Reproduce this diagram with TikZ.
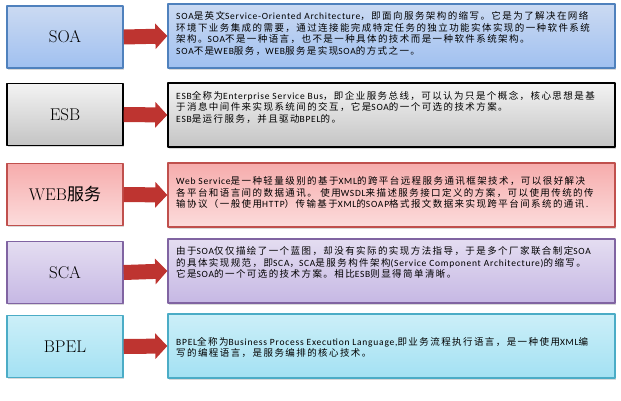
\documentclass[tikz,border=0pt]{standalone}
\usepackage{fontspec}
\newfontfamily\cjk[LetterSpace=15]{Noto Sans CJK SC}
\newfontfamily\cjklabel{Noto Sans CJK SC}
\newfontfamily\enfont[LetterSpace=8]{Carlito}
\newcommand\en[1]{{\enfont #1}}
\usetikzlibrary{positioning,shadows,arrows.meta}

\definecolor{soaline}{RGB}{79,129,189}
\definecolor{soatop}{RGB}{203,218,242}
\definecolor{soabot}{RGB}{160,192,240}
\definecolor{esbtop}{RGB}{243,243,243}
\definecolor{esbbot}{RGB}{196,196,196}
\definecolor{webline}{RGB}{192,80,77}
\definecolor{webtop}{RGB}{246,172,172}
\definecolor{webbot}{RGB}{252,220,220}
\definecolor{scaline}{RGB}{128,100,162}
\definecolor{scatop}{RGB}{228,221,241}
\definecolor{scabot}{RGB}{198,184,228}
\definecolor{bpelline}{RGB}{75,172,198}
\definecolor{bpeltop}{RGB}{204,239,248}
\definecolor{bpelbot}{RGB}{163,225,243}
\definecolor{arrowred}{RGB}{190,52,48}

\begin{document}
\begin{tikzpicture}[x=1pt, y=1pt, line join=round,
    namebox/.style={draw, line width=1.4pt, minimum width=116pt, minimum height=62pt,
      font=\fontsize{17}{20}\selectfont,
      drop shadow={shadow xshift=1pt, shadow yshift=-1.5pt, opacity=0.3}},
    descbox/.style={draw, line width=1.4pt, minimum width=447pt, minimum height=64pt,
      drop shadow={shadow xshift=1pt, shadow yshift=-1.5pt, opacity=0.3}},
    desc/.style={anchor=west, align=left, inner sep=0pt, font=\cjk\fontsize{9.5}{11.6}\selectfont},
    link/.style={draw=arrowred, line width=15pt, -{Triangle[length=12pt, width=25pt]}}]
  \useasboundingbox (0,0) rectangle (621,-400);

  % left column
  \node[namebox, draw=soaline, top color=soatop, bottom color=soabot] (soa) at (65,-37) {SOA};
  \node[namebox, draw=black, top color=esbtop, bottom color=esbbot] (esb) at (65,-114.5) {ESB};
  \node[namebox, draw=webline, top color=webtop, bottom color=webbot] (web) at (65,-194.5) {WEB{\cjklabel 服务}};
  \node[namebox, draw=scaline, top color=scatop, bottom color=scabot] (sca) at (65,-272.5) {SCA};
  \node[namebox, draw=bpelline, top color=bpeltop, bottom color=bpelbot] (bpel) at (65,-346.5) {BPEL};

  % right column
  \node[descbox, draw=soaline, top color=soatop, bottom color=soabot] (soad) at (391.5,-36) {};
  \node[descbox, draw=black, top color=esbtop, bottom color=esbbot] (esbd) at (391.5,-115) {};
  \node[descbox, draw=webline, top color=webtop, bottom color=webbot] (webd) at (391.5,-195) {};
  \node[descbox, draw=scaline, top color=scatop, bottom color=scabot] (scad) at (391.5,-271) {};
  \node[descbox, draw=bpelline, top color=bpeltop, bottom color=bpelbot] (bpeld) at (391.5,-346) {};

  \node[desc] (soat) at (176,-33.4) {\en{SOA}是英文\en{Service-Oriented Architecture}，即面向服务架构的缩写。它是为了解决在网络\\
    环境下业务集成的需要，通过连接能完成特定任务的独立功能实体实现的一种软件系统\\
    架构。\en{SOA}不是一种语言，也不是一种具体的技术而是一种软件系统架构。\\
    \en{SOA}不是\en{WEB}服务，\en{WEB}服务是实现\en{SOA}的方式之一。};
  \node[desc] (esbt) at (176,-107.3) {\en{ESB}全称为\en{Enterprise Service Bus}，即企业服务总线，可以认为只是个概念，核心思想是基\\
    于消息中间件来实现系统间的交互，它是\en{SOA}的一个可选的技术方案。\\
    \en{ESB}是运行服务，并且驱动\en{BPEL}的。};
  \node[desc] (webt) at (176,-192.7) {\en{Web Service}是一种轻量级别的基于\en{XML}的跨平台远程服务通讯框架技术，可以很好解决\\
    各平台和语言间的数据通讯。 使用\en{WSDL}来描述服务接口定义的方案，可以使用传统的传\\
    输协议（一般使用\en{HTTP}）传输基于\en{XML}的\en{SOAP}格式报文数据来实现跨平台间系统的通讯.};
  \node[desc] (scat) at (176,-262.7) {由于\en{SOA}仅仅描绘了一个蓝图，却没有实际的实现方法指导，于是多个厂家联合制定\en{SOA}\\
    的具体实现规范，即\en{SCA}，\en{SCA}是服务构件架构\en{(Service Component Architecture)}的缩写。\\
    它是\en{SOA}的一个可选的技术方案。相比\en{ESB}则显得简单清晰。};
  \node[desc] (bpelt) at (176,-347.4) {\en{BPEL}全称为\en{Business Process Execution Language,}即业务流程执行语言，是一种使用\en{XML}编\\
    写的编程语言，是服务编排的核心技术。};

  % arrows
  \draw[link] (soa.east) -- (soad.west);
  \draw[link] (esb.east) -- (esbd.west);
  \draw[link] (web.east) -- (webd.west);
  \draw[link] (sca.east) -- (scad.west);
  \draw[link] (bpel.east) -- (bpeld.west);
\end{tikzpicture}
\end{document}
